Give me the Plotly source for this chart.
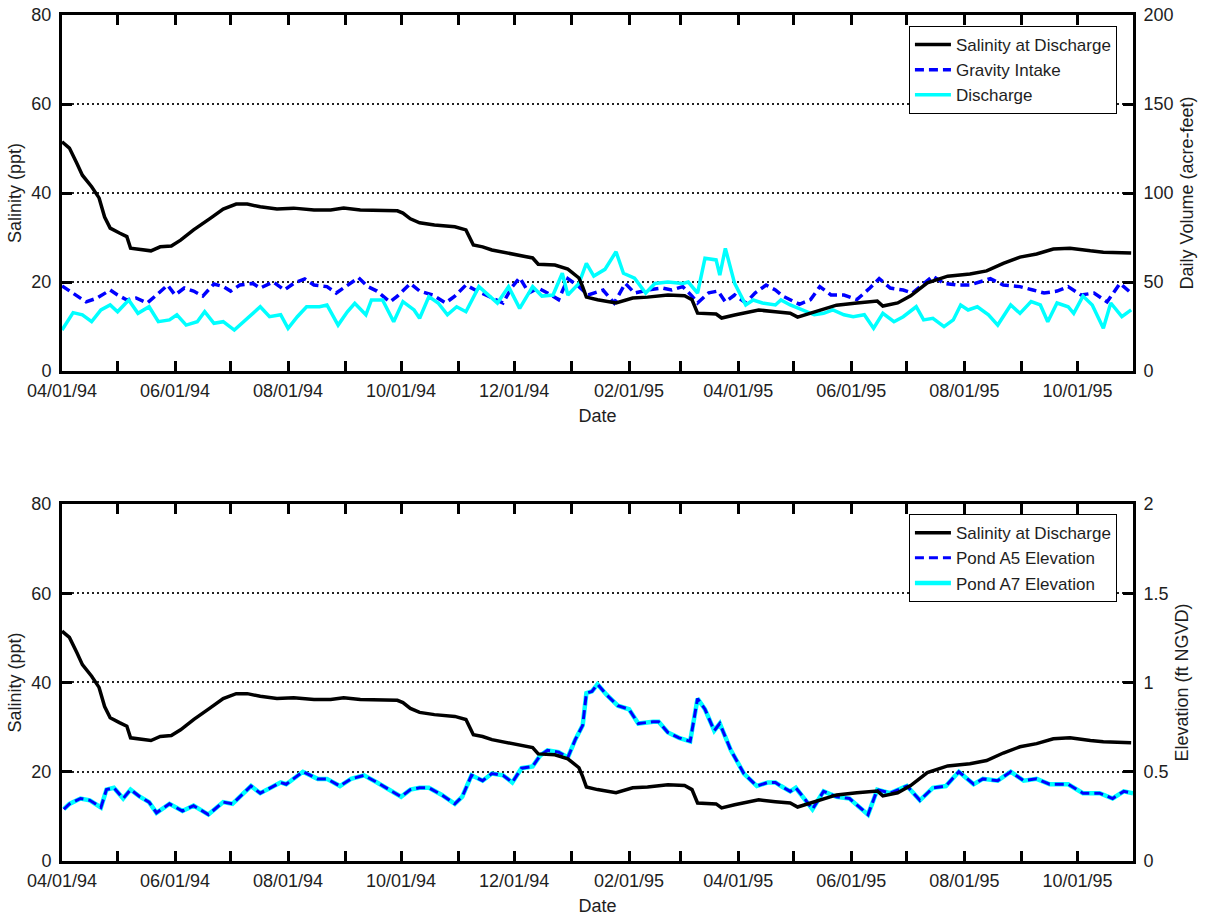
import pandas as pd
import plotly.graph_objects as go

START = pd.Timestamp("1994-04-01")

# Salinity at the discharge point (ppt), days since 04/01/94
sal_day = [0, 4, 8, 11, 16, 20, 23, 26, 31, 35, 37, 42, 48, 53, 59, 64, 71, 80, 87, 94,
           100, 107, 116, 125, 136, 145, 152, 161, 172, 181, 184, 188, 193, 201, 212, 218, 222, 227, 232, 238,
           241, 248, 254, 257, 266, 273, 279, 281, 283, 289, 299, 308, 316, 327, 336, 340, 343, 353, 356, 363,
           370, 376, 385, 393, 397, 406, 418, 429, 440, 443, 451, 458, 467, 478, 490, 499, 508, 517, 526, 535,
           544, 555, 562, 577]
sal_ppt = [51.5, 50.1, 46.7, 44.0, 41.4, 38.9, 34.6, 32.1, 31.0, 30.2, 27.6, 27.4, 27.0, 27.9, 28.1, 29.4, 31.7, 34.3, 36.4, 37.5,
           37.5, 36.9, 36.4, 36.6, 36.2, 36.2, 36.6, 36.2, 36.0, 36.0, 35.5, 34.2, 33.3, 32.8, 32.4, 31.7, 28.3, 27.9, 27.2, 26.7,
           26.3, 25.8, 25.4, 24.0, 23.8, 22.9, 20.9, 18.9, 16.6, 16.0, 15.3, 16.4, 16.6, 17.1, 16.9, 16.0, 13.0, 12.8, 11.9, 12.6,
           13.3, 13.7, 13.3, 13.0, 12.1, 13.3, 14.8, 15.3, 15.7, 14.6, 15.3, 16.9, 19.8, 21.3, 21.8, 22.5, 24.2, 25.6, 26.3, 27.4,
           27.6, 27.0, 26.7, 26.5]

# Gravity intake daily volume (acre-feet)
grav_day = [0, 6, 13, 19, 26, 30, 35, 40, 46, 51, 57, 61, 66, 71, 76, 82, 87, 91, 96, 103,
            107, 114, 120, 125, 131, 136, 143, 148, 154, 160, 165, 170, 177, 181, 188, 193, 200, 207, 212, 218,
            223, 230, 238, 243, 247, 252, 257, 262, 268, 273, 279, 284, 292, 298, 304, 309, 316, 324, 329, 335,
            340, 343, 349, 354, 358, 363, 369, 374, 380, 385, 389, 398, 404, 409, 415, 422, 429, 436, 441, 447,
            454, 459, 465, 470, 476, 483, 490, 496, 501, 508, 517, 524, 530, 537, 543, 550, 557, 564, 571, 577]
grav_af = [47.8, 43.8, 38.8, 41.0, 45.5, 42.7, 39.9, 41.0, 38.2, 42.7, 48.3, 42.7, 46.6, 44.9, 42.1, 48.9, 47.4, 44.9, 48.3, 49.2,
           46.6, 50.0, 45.5, 49.2, 51.7, 48.3, 47.4, 43.8, 48.3, 52.4, 47.4, 44.9, 38.8, 42.1, 49.2, 44.9, 42.7, 38.2, 42.1, 48.3,
           45.5, 42.1, 38.2, 47.4, 52.4, 43.8, 46.6, 43.8, 40.1, 51.9, 47.4, 42.7, 45.5, 38.2, 49.2, 43.8, 45.5, 46.6, 45.5, 47.4,
           42.1, 38.2, 43.9, 44.9, 38.8, 42.7, 38.2, 43.8, 48.3, 45.5, 42.1, 37.5, 40.1, 47.4, 42.7, 42.7, 40.1, 46.6, 51.9, 46.6,
           45.5, 43.8, 49.2, 53.3, 49.2, 48.3, 48.3, 50.0, 51.9, 48.3, 47.4, 45.5, 43.8, 44.9, 47.4, 42.7, 43.8, 38.8, 49.2, 43.8]

# Discharge daily volume (acre-feet)
dis_day = [0, 6, 11, 16, 21, 26, 30, 36, 41, 47, 52, 58, 62, 67, 73, 77, 82, 87, 93, 100,
           107, 112, 118, 122, 127, 132, 139, 143, 149, 154, 158, 164, 167, 173, 179, 184, 190, 193, 198, 203,
           208, 213, 218, 225, 230, 235, 241, 247, 254, 259, 265, 270, 273, 279, 283, 287, 293, 299, 303, 309,
           315, 320, 327, 335, 338, 343, 347, 353, 355, 358, 363, 369, 373, 378, 385, 388, 393, 400, 406, 411,
           416, 422, 427, 433, 438, 443, 449, 454, 461, 465, 470, 476, 481, 485, 489, 494, 500, 505, 512, 517,
           523, 528, 532, 537, 543, 546, 551, 556, 562, 566, 572, 577]
dis_af = [23.0, 32.8, 31.6, 27.7, 34.3, 37.1, 33.3, 39.9, 32.4, 36.1, 27.7, 28.7, 31.6, 25.8, 27.7, 33.3, 26.8, 27.7, 23.0, 29.6,
          36.1, 30.5, 31.6, 24.0, 30.5, 36.1, 36.1, 37.1, 25.8, 33.3, 38.0, 31.6, 39.9, 39.9, 27.7, 39.0, 34.3, 29.6, 41.8, 38.2,
          31.6, 36.1, 33.3, 47.4, 42.7, 38.2, 47.4, 35.2, 47.4, 42.1, 42.7, 54.9, 42.7, 49.2, 60.5, 53.3, 57.1, 67.0, 54.9, 52.1,
          43.8, 49.2, 50.0, 49.2, 50.0, 43.8, 63.3, 62.4, 53.9, 68.9, 49.2, 37.1, 39.9, 38.2, 37.1, 39.9, 37.1, 34.3, 31.6, 32.4,
          34.3, 31.6, 30.5, 31.6, 24.0, 32.4, 27.7, 30.5, 36.1, 28.7, 29.6, 24.9, 28.7, 37.1, 34.3, 36.1, 31.6, 25.8, 37.1, 32.4,
          39.0, 37.1, 27.7, 38.2, 36.1, 32.4, 42.1, 37.1, 24.0, 38.2, 30.5, 34.3]

# Pond A5 water surface elevation (ft NGVD)
a5_day = [1, 4, 10, 15, 21, 24, 28, 33, 37, 42, 47, 51, 58, 65, 71, 79, 87, 92, 102, 107,
          118, 121, 130, 138, 143, 150, 156, 163, 170, 183, 188, 193, 198, 205, 212, 216, 221, 227, 232, 238,
          243, 248, 254, 258, 262, 268, 273, 277, 281, 283, 286, 289, 294, 300, 306, 311, 319, 322, 327, 333,
          339, 343, 347, 352, 355, 361, 368, 375, 381, 385, 388, 393, 396, 400, 405, 411, 418, 425, 435, 440,
          447, 456, 463, 470, 477, 484, 492, 497, 505, 512, 519, 526, 533, 543, 551, 560, 567, 573, 578]
a5_ft = [0.29, 0.32, 0.35, 0.34, 0.30, 0.40, 0.41, 0.35, 0.40, 0.36, 0.33, 0.27, 0.32, 0.28, 0.31, 0.26, 0.33, 0.32, 0.42, 0.38,
         0.44, 0.43, 0.50, 0.46, 0.46, 0.42, 0.46, 0.48, 0.44, 0.36, 0.40, 0.41, 0.41, 0.37, 0.32, 0.36, 0.48, 0.45, 0.49, 0.48,
         0.44, 0.52, 0.53, 0.59, 0.62, 0.61, 0.58, 0.68, 0.76, 0.94, 0.95, 0.99, 0.93, 0.87, 0.85, 0.77, 0.78, 0.78, 0.72, 0.69,
         0.67, 0.91, 0.85, 0.73, 0.77, 0.62, 0.49, 0.42, 0.44, 0.44, 0.42, 0.39, 0.41, 0.36, 0.29, 0.39, 0.36, 0.35, 0.26, 0.40,
         0.38, 0.42, 0.34, 0.41, 0.42, 0.50, 0.43, 0.46, 0.45, 0.50, 0.45, 0.46, 0.43, 0.43, 0.38, 0.38, 0.35, 0.39, 0.38]

# Pond A7 elevation tracks A5 almost exactly over this period
a7_day = list(a5_day)
a7_ft = list(a5_ft)

# Axis tick values
month_ticks = pd.date_range("1994-04-01", "1995-10-01", freq="MS")
sal_ticks = [0, 20, 40, 60, 80]
vol_ticks = [0, 50, 100, 150, 200]
elev_ticks = [0, 0.5, 1, 1.5, 2]
elev_labels = ["0", "0.5", "1", "1.5", "2"]


def to_dates(days):
    return START + pd.to_timedelta(days, unit="D")


FONT = "Liberation Sans, Arial, sans-serif"
TXT = "#1e1e1e"
BLUE = "#0000ff"
CYAN = "#00ffff"

fig = go.Figure()

# Top panel: salinity with daily volumes
fig.add_trace(go.Scatter(x=to_dates(sal_day), y=sal_ppt, name="Salinity at Discharge",
                         xaxis="x", yaxis="y2", mode="lines", legend="legend", legendrank=1,
                         line=dict(color="black", width=3.5)))
fig.add_trace(go.Scatter(x=to_dates(grav_day), y=grav_af, name="Gravity Intake",
                         xaxis="x", yaxis="y", mode="lines", legend="legend", legendrank=2,
                         line=dict(color=BLUE, width=3.5, dash="9px,5px")))
fig.add_trace(go.Scatter(x=to_dates(dis_day), y=dis_af, name="Discharge",
                         xaxis="x", yaxis="y", mode="lines", legend="legend", legendrank=3,
                         line=dict(color=CYAN, width=3.5)))

# Bottom panel: salinity with pond elevations
fig.add_trace(go.Scatter(x=to_dates(sal_day), y=sal_ppt, name="Salinity at Discharge",
                         xaxis="x2", yaxis="y4", mode="lines", legend="legend2", legendrank=1,
                         line=dict(color="black", width=3.5)))
fig.add_trace(go.Scatter(x=to_dates(a7_day), y=a7_ft, name="Pond A7 Elevation",
                         xaxis="x2", yaxis="y3", mode="lines", legend="legend2", legendrank=3,
                         line=dict(color=CYAN, width=4.5)))
fig.add_trace(go.Scatter(x=to_dates(a5_day), y=a5_ft, name="Pond A5 Elevation",
                         xaxis="x2", yaxis="y3", mode="lines", legend="legend2", legendrank=2,
                         line=dict(color=BLUE, width=3, dash="9px,5px")))

tick_text = [d.strftime("%m/%d/%y") if i % 2 == 0 else "" for i, d in enumerate(month_ticks)]

xcommon = dict(
    type="date", range=["1994-04-01", "1995-10-31"], automargin=False,
    tickvals=list(month_ticks), ticktext=tick_text,
    ticks="inside", ticklen=10, tickwidth=3, tickcolor="black",
    showline=True, linewidth=3, linecolor="black", mirror="ticks",
    showgrid=False, zeroline=False,
    tickfont=dict(family=FONT, size=18, color=TXT),
    ticklabelstandoff=1,
    title=dict(text="Date", font=dict(family=FONT, size=18, color=TXT), standoff=10),
)

ycommon = dict(
    automargin=False,
    ticks="inside", ticklen=10, tickwidth=3, tickcolor="black",
    showline=True, linewidth=3, linecolor="black",
    zeroline=False,
    tickfont=dict(family=FONT, size=18, color=TXT),
    ticklabelstandoff=4,
)

TOP = [0.5792, 1.0]
BOT = [0.0, 0.422]

grid = dict(showgrid=True, gridcolor="#222222", gridwidth=1.5, griddash="2px,3px")
legend_style = dict(xanchor="right", yanchor="top", bgcolor="white", bordercolor="black",
                    borderwidth=1, itemwidth=36, tracegroupgap=0,
                    entrywidth=182, entrywidthmode="pixels",
                    font=dict(family=FONT, size=17, color=TXT))

fig.update_layout(
    width=1209, height=919,
    margin=dict(l=62, r=76, t=15, b=58),
    paper_bgcolor="white", plot_bgcolor="white",
    font=dict(family=FONT, color=TXT),
    xaxis=dict(xcommon, domain=[0, 1], anchor="y"),
    xaxis2=dict(xcommon, domain=[0, 1], anchor="y3"),
    yaxis=dict(ycommon, domain=TOP, anchor="x", side="right", range=[0, 200],
               tickvals=vol_ticks, showgrid=False,
               title=dict(text="Daily Volume (acre-feet)", font=dict(family=FONT, size=18, color=TXT), standoff=8)),
    yaxis2=dict(ycommon, overlaying="y", anchor="x", side="left", range=[0, 80],
                tickvals=sal_ticks, **grid,
                title=dict(text="Salinity (ppt)", font=dict(family=FONT, size=18, color=TXT), standoff=6)),
    yaxis3=dict(ycommon, domain=BOT, anchor="x2", side="right", range=[0, 2],
                tickvals=elev_ticks, ticktext=elev_labels, showgrid=False,
                title=dict(text="Elevation (ft NGVD)", font=dict(family=FONT, size=18, color=TXT), standoff=8)),
    yaxis4=dict(ycommon, overlaying="y3", anchor="x2", side="left", range=[0, 80],
                tickvals=sal_ticks, **grid,
                title=dict(text="Salinity (ppt)", font=dict(family=FONT, size=18, color=TXT), standoff=6)),
    legend=dict(legend_style, x=0.985, y=0.987),
    legend2=dict(legend_style, x=0.985, y=0.410),
)

fig.write_html("out.html")
